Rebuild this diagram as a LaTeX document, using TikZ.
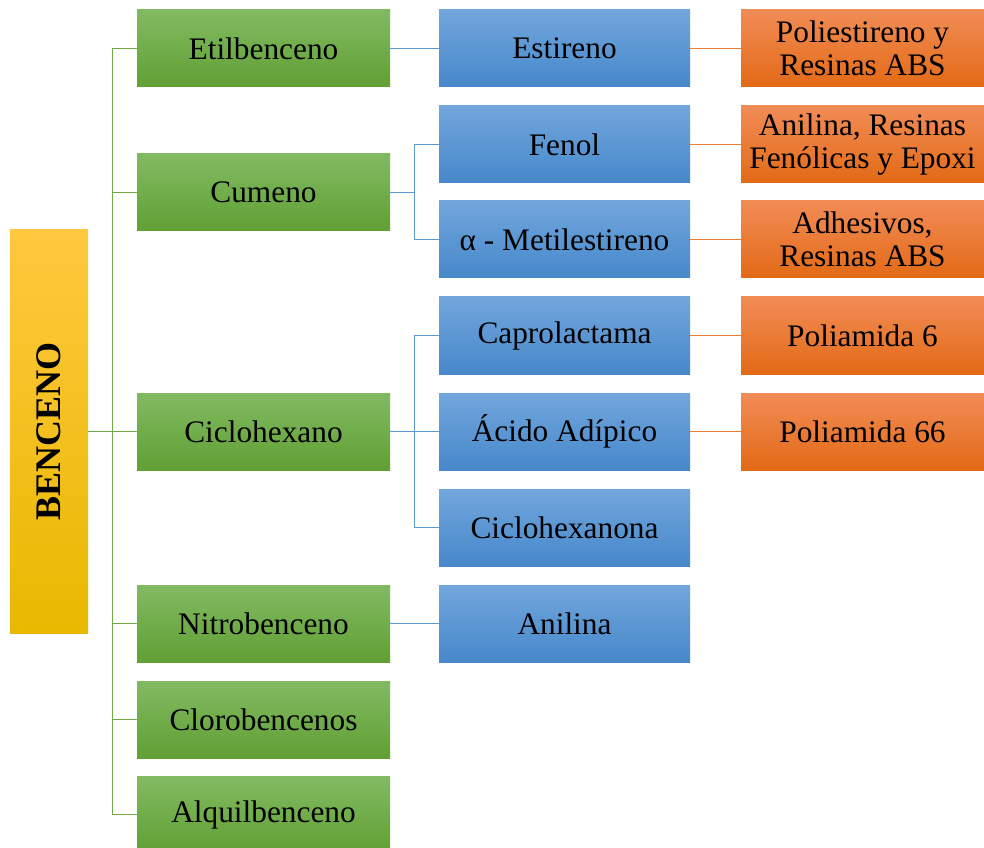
\documentclass[tikz,border=0pt]{standalone}
\usepackage{fontspec}
\setmainfont{Liberation Serif}
\usepackage{tikz}
\usepackage{xcolor}

\definecolor{verdeA}{RGB}{130,186,98}
\definecolor{verdeB}{RGB}{108,176,62}
\definecolor{verdeC}{RGB}{96,160,52}
\definecolor{azulA}{RGB}{114,166,221}
\definecolor{azulB}{RGB}{91,155,216}
\definecolor{azulC}{RGB}{70,136,202}
\definecolor{naranjaA}{RGB}{241,140,86}
\definecolor{naranjaB}{RGB}{240,122,40}
\definecolor{naranjaC}{RGB}{227,106,22}
\definecolor{amarilloA}{RGB}{255,200,62}
\definecolor{amarilloB}{RGB}{255,194,10}
\definecolor{amarilloC}{RGB}{233,184,0}
\definecolor{lineaV}{RGB}{112,173,71}
\definecolor{lineaA}{RGB}{91,155,213}
\definecolor{lineaN}{RGB}{237,125,49}

\begin{document}
\begin{tikzpicture}[x=0.75pt,y=0.75pt,yscale=-1,xscale=1,
  caja/.style={inner sep=0pt,align=center,font=\fontsize{23.5}{25}\selectfont,text=black},
  verde/.style={caja,minimum width=189.75pt,minimum height=57.75pt,top color=verdeA,middle color=verdeB,bottom color=verdeC},
  azul/.style={caja,minimum width=188.25pt,minimum height=57.75pt,top color=azulA,middle color=azulB,bottom color=azulC},
  naranja/.style={caja,minimum width=182.25pt,minimum height=57.75pt,top color=naranjaA,middle color=naranjaB,bottom color=naranjaC},
  enlaceV/.style={draw=lineaV,line width=0.9pt},
  enlaceA/.style={draw=lineaA,line width=0.9pt},
  enlaceN/.style={draw=lineaN,line width=0.9pt}]
\useasboundingbox (0,0) rectangle (984,848);

%Shape: Rectangle [benceno]
\node [caja,minimum width=58.5pt,minimum height=302.25pt,top color=amarilloA,middle color=amarilloB,bottom color=amarilloC] (benc) at (49,431.5) {};
\node [rotate=90,font=\fontsize{27}{28}\selectfont\bfseries] (bencT) at (benc.center) {BENCENO};

%Shape: Rectangle [derivados]
\node [verde] (etil) at (263.5,48.5) {Etilbenceno};
\node [verde] (cum) at (263.5,192.5) {Cumeno};
\node [verde] (cic) at (263.5,431.5) {Ciclohexano};
\node [verde] (nit) at (263.5,623.5) {Nitrobenceno};
\node [verde] (clo) at (263.5,719.5) {Clorobencenos};
\node [verde] (alq) at (263.5,814.5) {Alquilbenceno};

%Shape: Rectangle [intermedios]
\node [azul] (est) at (564.5,48.5) {Estireno};
\node [azul] (fen) at (564.5,144.5) {Fenol};
\node [azul] (met) at (564.5,239.5) {α - Metilestireno};
\node [azul] (cap) at (564.5,335.5) {Caprolactama};
\node [azul] (adi) at (564.5,431.5) {Ácido Adípico};
\node [azul] (cona) at (564.5,527.5) {Ciclohexanona};
\node [azul] (ani) at (564.5,623.5) {Anilina};

%Shape: Rectangle [productos]
\node [naranja] (pes) at (862.5,48.5) {Poliestireno y\\Resinas ABS};
\node [naranja] (res) at (862.5,144.5) {Anilina, Resinas\\Fenólicas y Epoxi};
\node [naranja] (adh) at (862.5,239.5) {Adhesivos,\\Resinas ABS};
\node [naranja] (pa6) at (862.5,335.5) {Poliamida 6};
\node [naranja] (pa66) at (862.5,431.5) {Poliamida 66};

%Connectors
\foreach \d in {etil,cum,cic,nit,clo,alq}
  \draw [enlaceV] (benc.east) -- ++(24,0) |- (\d.west);
\draw [enlaceA] (etil.east) -- (est.west);
\foreach \d in {fen,met}
  \draw [enlaceA] (cum.east) -- ++(24,0) |- (\d.west);
\foreach \d in {cap,adi,cona}
  \draw [enlaceA] (cic.east) -- ++(24,0) |- (\d.west);
\draw [enlaceA] (nit.east) -- (ani.west);
\draw [enlaceN] (est.east) -- (pes.west);
\draw [enlaceN] (fen.east) -- (res.west);
\draw [enlaceN] (met.east) -- (adh.west);
\draw [enlaceN] (cap.east) -- (pa6.west);
\draw [enlaceN] (adi.east) -- (pa66.west);

\end{tikzpicture}
\end{document}
